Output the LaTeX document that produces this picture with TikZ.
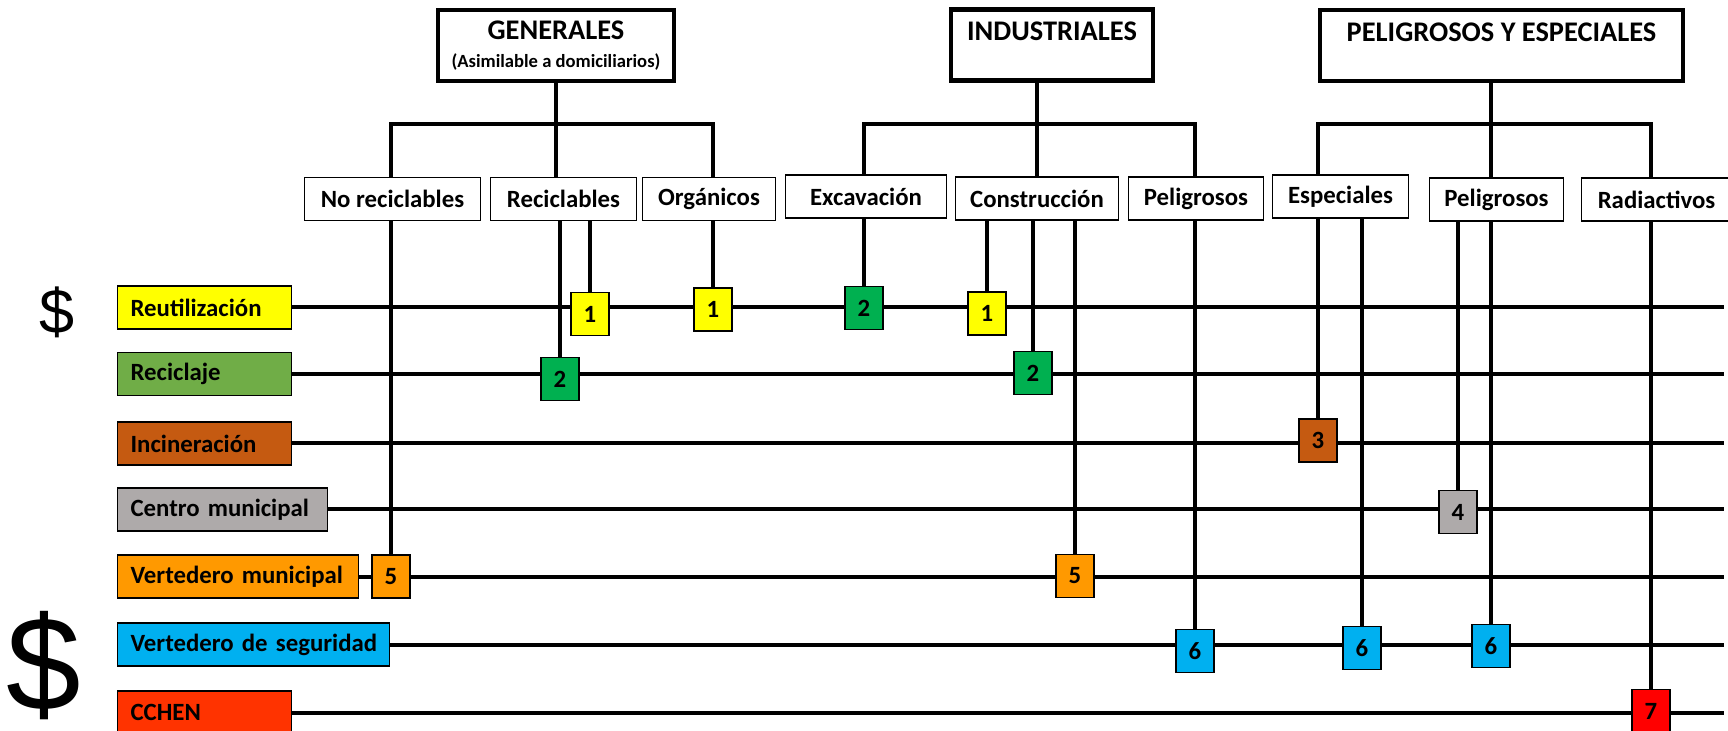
\documentclass[tikz,border=0pt]{standalone}
\usepackage{fontspec}
\setmainfont{Carlito}
\newfontfamily\dolarfont{Liberation Sans}
\usetikzlibrary{backgrounds}

\definecolor{amarillo}{HTML}{FFFF00}
\definecolor{verdeclaro}{HTML}{70AD47}
\definecolor{verde}{HTML}{00B050}
\definecolor{cafe}{HTML}{C55A11}
\definecolor{gris}{HTML}{AEAAAA}
\definecolor{naranjo}{HTML}{FF9900}
\definecolor{celeste}{HTML}{00B0F0}
\definecolor{rojizo}{HTML}{FF3300}
\definecolor{rojo}{HTML}{FF0000}

\newcommand{\nota}{\fontsize{9.3pt}{11pt}\selectfont}
\newcommand{\alto}{\rule{0pt}{11.5pt}}

\begin{document}
\begin{tikzpicture}[x=0.5pt,y=-0.5pt]
\tikzstyle{categoria} = [draw, line width=2.2pt, align=center, minimum height=35.5pt, font=\bfseries\fontsize{14.2pt}{12.2pt}\selectfont]
\tikzstyle{tipo} = [draw, line width=0.7pt, minimum height=21.5pt, inner xsep=0pt, font=\bfseries\fontsize{12.4pt}{15pt}\selectfont]
\tikzstyle{proceso} = [draw, line width=0.6pt, anchor=west, align=left, inner xsep=6.5pt, minimum height=21.5pt, font=\bfseries\fontsize{12.4pt}{15pt}\selectfont]
\tikzstyle{marca} = [draw, line width=0.8pt, minimum width=19pt, minimum height=21.5pt, inner sep=0pt, font=\bfseries\fontsize{12.4pt}{15pt}\selectfont]
\tikzstyle{linea} = [line width=2pt]

\useasboundingbox (0,0) rectangle (1728,731);

% categorias
\node[categoria, minimum width=118pt] (G) at (556,45.5) {\rule{0pt}{9.5pt}GENERALES\\[2pt]{\nota (Asimilable a domiciliarios)}};
\node[categoria, minimum width=101pt] (I) at (1052,45) {\alto INDUSTRIALES\\{\nota\strut}};
\node[categoria, minimum width=181.5pt] (P) at (1501.5,45.5) {\alto PELIGROSOS Y ESPECIALES\\{\nota\strut}};

% tipos de residuo
\node[tipo, minimum width=88pt] (B1) at (392.5,199) {No reciclables};
\node[tipo, minimum width=73pt] (B2) at (563.5,199) {Reciclables};
\node[tipo, minimum width=66.5pt] (B3) at (709,199) {Orgánicos};
\node[tipo, minimum width=80.5pt] (B4) at (866,196.5) {Excavación};
\node[tipo, minimum width=81.5pt] (B5) at (1037,198.5) {Construcción};
\node[tipo, minimum width=67.5pt] (B6) at (1196,198.5) {Peligrosos};
\node[tipo, minimum width=68pt] (B7) at (1340.5,196.5) {Especiales};
\node[tipo, minimum width=67pt] (B8) at (1496.5,199.5) {Peligrosos};
\node[tipo, minimum width=75pt] (B9) at (1656.5,199.5) {Radiactivos};

% destinos
\node[proceso, fill=amarillo, text width=74pt] (R1) at (117,307.5) {Reutilización};
\node[proceso, fill=verdeclaro, text width=74pt] (R2) at (117,374) {Reciclaje};
\node[proceso, fill=cafe, text width=74pt] (R3) at (117,443.5) {Incineración};
\node[proceso, fill=gris, text width=92pt] (R4) at (117,509.5) {Centro municipal};
\node[proceso, fill=naranjo, text width=107.5pt] (R5) at (117,576.5) {Vertedero municipal};
\node[proceso, fill=celeste, text width=123pt] (R6) at (117,644.5) {\mbox{Vertedero de seguridad}};
\node[proceso, fill=rojizo, text width=74pt] (R7) at (117,712.5) {CCHEN};

\node[font=\dolarfont\fontsize{31.5pt}{32pt}\selectfont, anchor=base] (D1) at (57.5,334) {\$};
\node[font=\dolarfont\fontsize{67pt}{68pt}\selectfont, anchor=base] (D2) at (44,710) {\$};

% marcas
\node[marca, fill=amarillo] (M1) at (590,314) {1};
\node[marca, fill=amarillo] (M2) at (713,309.5) {1};
\node[marca, fill=verde] (M3) at (864,308) {2};
\node[marca, fill=amarillo] (M4) at (987,313.5) {1};
\node[marca, fill=verde] (M5) at (560,379) {2};
\node[marca, fill=verde] (M6) at (1033,373) {2};
\node[marca, fill=cafe] (M7) at (1318,440.5) {3};
\node[marca, fill=gris] (M8) at (1458,512) {4};
\node[marca, fill=naranjo] (M9) at (391,576.5) {5};
\node[marca, fill=naranjo] (M10) at (1075,576) {5};
\node[marca, fill=celeste] (M11) at (1195,651) {6};
\node[marca, fill=celeste] (M12) at (1362,648) {6};
\node[marca, fill=celeste] (M13) at (1491,646) {6};
\node[marca, fill=rojo] (M14) at (1651,711) {7};

\coordinate (Gb) at (556,124);
\coordinate (Ib) at (1036,124);
\coordinate (Pb) at (1491,124);
\coordinate (fin) at (1724,0);

\begin{pgfonlayer}{background}
% arbol
\draw[linea] (G.south) -- (G.south |- B2.north);
\draw[linea] (M9 |- B1.north) |- (Gb) -| (M2 |- B3.north);
\draw[linea] (B5.north) -- (B5.north |- I.south);
\draw[linea] (M3 |- B4.north) |- (Ib) -| (M11 |- B6.north);
\draw[linea] (M13 |- P.south) -- (M13 |- B8.north);
\draw[linea] (M7 |- B7.north) |- (Pb) -| (M14 |- B9.north);

% filas
\draw[linea] (R1.east) -- (R1.east -| fin);
\draw[linea] (R2.east) -- (R2.east -| fin);
\draw[linea] (R3.east) -- (R3.east -| fin);
\draw[linea] (R4.east) -- (R4.east -| fin);
\draw[linea] (R5.east) -- (R5.east -| fin);
\draw[linea] (R6.east) -- (R6.east -| fin);
\draw[linea] (R7.east) -- (R7.east -| fin);

% bajadas
\draw[linea] (M9) -- (M9 |- B1.south);
\draw[linea] (M1) -- (M1 |- B2.south);
\draw[linea] (M5) -- (M5 |- B2.south);
\draw[linea] (M2) -- (M2 |- B3.south);
\draw[linea] (M3) -- (M3 |- B4.south);
\draw[linea] (M4) -- (M4 |- B5.south);
\draw[linea] (M6) -- (M6 |- B5.south);
\draw[linea] (M10) -- (M10 |- B5.south);
\draw[linea] (M11) -- (M11 |- B6.south);
\draw[linea] (M7) -- (M7 |- B7.south);
\draw[linea] (M12) -- (M12 |- B7.south);
\draw[linea] (M8) -- (M8 |- B8.south);
\draw[linea] (M13) -- (M13 |- B8.south);
\draw[linea] (M14) -- (M14 |- B9.south);
\end{pgfonlayer}
\end{tikzpicture}
\end{document}
